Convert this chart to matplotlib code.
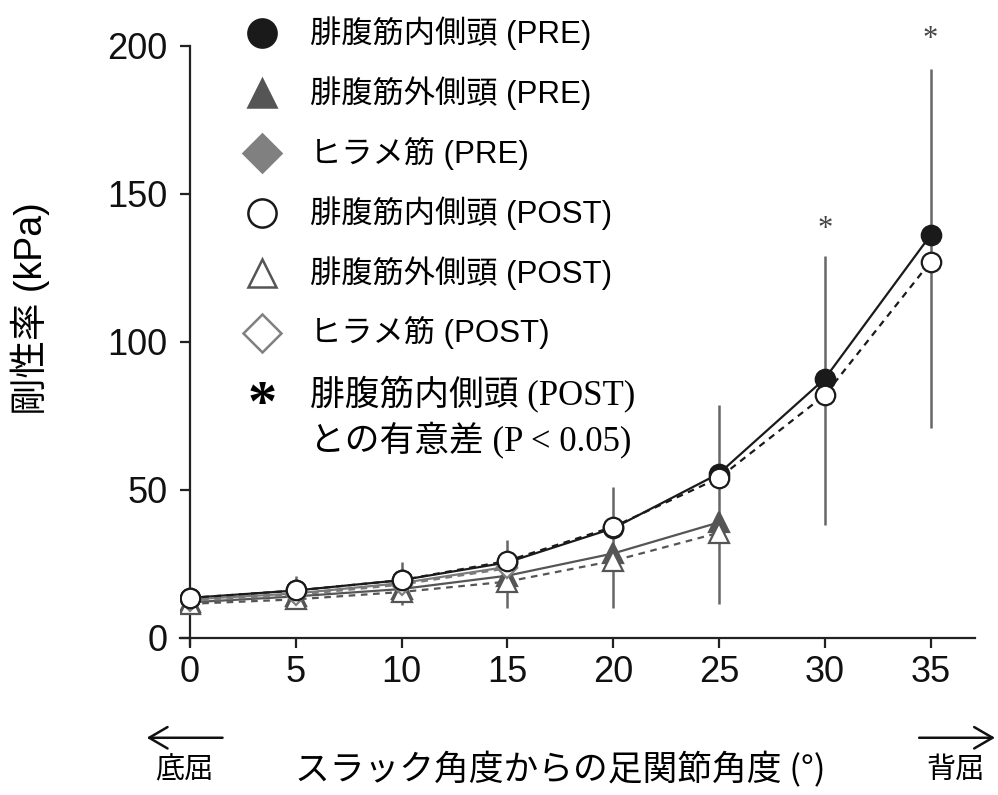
import matplotlib
matplotlib.use("Agg")
import matplotlib.pyplot as plt
from matplotlib.lines import Line2D
from matplotlib.patches import FancyArrowPatch

plt.rcParams['font.family'] = ['Liberation Sans', 'Noto Sans CJK JP']

# ankle angle from slack angle (deg)
angles = [0, 5, 10, 15, 20, 25, 30, 35]

# shear modulus (kPa)
mg_pre = [13.5, 16, 19.5, 25.5, 37, 55.5, 87.5, 136]
mg_post = [13.5, 16, 19.5, 26, 37.5, 54, 82, 127]
lg_pre = [12, 14, 16.5, 21, 28.5, 39]
lg_post = [11.5, 13, 15.5, 19, 26, 35.5]
sol_pre = [13, 15, 18.5, 24]
sol_post = [12.5, 14.5, 18, 23.5]

# error bar extents
err_low = [11, 10.5, 11, 10, 10, 11.5, 38, 71]
err_high = [15, 21, 25.5, 33, 51, 78.5, 129, 192]

# significance marks (vs MG POST)
sig_angles = [30, 35]
sig_y = [138, 202]

styles = {
    'mg_pre': dict(color='#1a1a1a', ls='-', marker='o', mfc='#1a1a1a', mec='#1a1a1a', ms=14),
    'lg_pre': dict(color='#555555', ls='-', marker='^', mfc='#555555', mec='#555555', ms=14),
    'sol_pre': dict(color='#7a7a7a', ls='-', marker='D', mfc='#808080', mec='#808080', ms=10),
    'mg_post': dict(color='#1a1a1a', ls=(0, (3, 2.5)), marker='o', mfc='white', mec='#1a1a1a', ms=14),
    'lg_post': dict(color='#555555', ls=(0, (3, 2.5)), marker='^', mfc='white', mec='#555555', ms=14),
    'sol_post': dict(color='#7a7a7a', ls=(0, (3, 2.5)), marker='D', mfc='white', mec='#808080', ms=10),
}

fig = plt.figure(figsize=(9.98, 7.95), dpi=100)
ax = fig.add_axes([0.1804, 0.1887, 0.7966, 0.7987])

ax.vlines(angles, err_low, err_high, color='#666666', lw=1.8, zorder=1)

series = [
    ('mg_pre', mg_pre), ('lg_pre', lg_pre), ('sol_pre', sol_pre),
    ('lg_post', lg_post), ('sol_post', sol_post), ('mg_post', mg_post),
]
for key, vals in series:
    ax.plot(angles[:len(vals)], vals, lw=1.6, mew=1.6, zorder=3, **styles[key])

for xa, ya in zip(sig_angles, sig_y):
    ax.text(xa, ya, '*', family='Liberation Serif', fontsize=22, color='#444444',
            ha='center', va='center')

ax.set_xlim(-0.47, 37.1)
ax.set_ylim(-2.4, 212)
ax.spines['top'].set_visible(False)
ax.spines['right'].set_visible(False)
ax.spines['left'].set_position(('data', 0))
ax.spines['bottom'].set_position(('data', 0))
ax.spines['left'].set_bounds(-2.4, 200)
ax.spines['bottom'].set_bounds(-0.47, 37.1)
for s in ('left', 'bottom'):
    ax.spines[s].set_linewidth(1.6)
    ax.spines[s].set_color('#222222')

ax.set_xticks(angles)
ax.set_yticks([0, 50, 100, 150, 200])
ax.tick_params(axis='both', direction='out', length=7, width=1.6, color='#222222',
               labelsize=26, labelcolor='#111111')
ax.tick_params(axis='y', pad=9)
ax.tick_params(axis='x', pad=5)

ax.set_ylabel('剛性率 (kPa)', fontsize=27)
ax.yaxis.set_label_coords(-0.163, 0.53)

fig.text(0.561, 0.031, 'スラック角度からの足関節角度 (°)', fontsize=25,
         family=['Noto Sans CJK JP', 'DejaVu Sans'], ha='center', va='center')
fig.text(0.185, 0.031, '底屈', fontsize=21, family='Noto Sans CJK JP', ha='center', va='center')
fig.text(0.957, 0.031, '背屈', fontsize=21, family='Noto Sans CJK JP', ha='center', va='center')
arrow_kw = dict(arrowstyle='->,head_length=0.6,head_width=0.35', lw=1.8, color='#111111',
                mutation_scale=22, shrinkA=0, shrinkB=0, transform=fig.transFigure)
fig.add_artist(FancyArrowPatch((0.223, 0.072), (0.147, 0.072), **arrow_kw))
fig.add_artist(FancyArrowPatch((0.921, 0.072), (0.997, 0.072), **arrow_kw))

# legend
legend_rows = [
    ('mg_pre', '腓腹筋内側頭 (PRE)'),
    ('lg_pre', '腓腹筋外側頭 (PRE)'),
    ('sol_pre', 'ヒラメ筋 (PRE)'),
    ('mg_post', '腓腹筋内側頭 (POST)'),
    ('lg_post', '腓腹筋外側頭 (POST)'),
    ('sol_post', 'ヒラメ筋 (POST)'),
]
mx, tx = 0.2625, 0.3106
top, step = 1 - 33 / 795, 60 / 795
for i, (key, label) in enumerate(legend_rows):
    y = top - i * step
    st = styles[key]
    size = st['ms'] * (1.45 if st['marker'] != 'D' else 1.9)
    fig.add_artist(Line2D([mx], [y], marker=st['marker'], ms=size, mfc=st['mfc'],
                          mec=st['mec'], mew=1.8, ls='none', transform=fig.transFigure))
    fig.text(tx, y, label, fontsize=22.5, ha='left', va='center')

y_ast = 1 - 395 / 795
fig.text(mx, y_ast - 0.014, '*', fontsize=42, fontweight='bold', ha='center', va='center',
         family='Liberation Serif')
note_fam = ['Liberation Serif', 'Noto Sans CJK JP']
fig.text(tx, y_ast, '腓腹筋内側頭 (POST)', fontsize=25, family=note_fam, ha='left', va='center')
fig.text(tx, 1 - 440 / 795, 'との有意差 (P < 0.05)', fontsize=25, family=note_fam,
         ha='left', va='center')

fig.savefig('out.png', dpi=100)
